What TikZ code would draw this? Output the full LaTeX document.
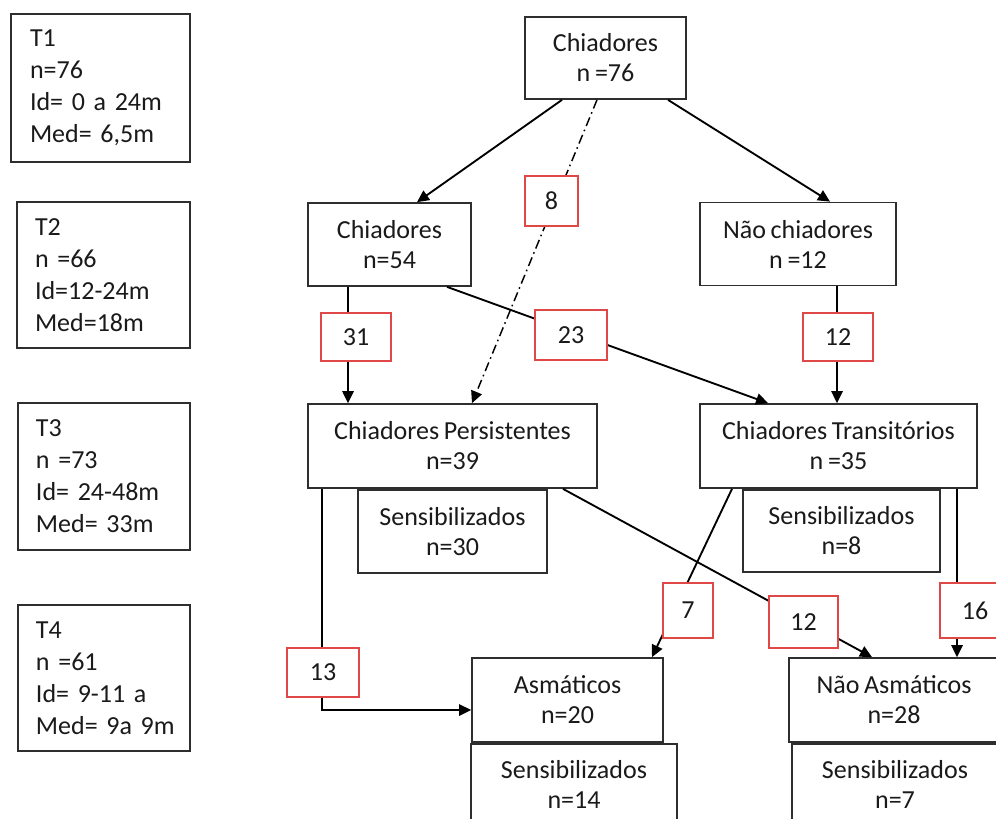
\documentclass[tikz,border=0pt]{standalone}
\usepackage{fontspec}
\setmainfont{Carlito}[WordSpace=0.8]
\usetikzlibrary{arrows.meta}
\newcommand{\px}{0.75pt}
\definecolor{edge}{HTML}{2E2E2E}
\definecolor{ink}{HTML}{1A1A1A}
\definecolor{redb}{HTML}{E04848}
\tikzset{
 box/.style={draw=edge, line width=1.3pt, fill=white, align=center, inner sep=0pt, text=ink, font=\fontsize{19.5}{22.5}\selectfont},
 lbox/.style={draw=edge, line width=1.3pt, align=left, inner ysep=0pt, text=ink, font=\fontsize{19.5}{24}\selectfont},
 rbox/.style={draw=redb, line width=1.1pt, fill=white, inner sep=0pt, text=ink, font=\fontsize{19.5}{22.5}\selectfont},
 arr/.style={draw=black, line width=1.4pt, -{Triangle[length=9pt,width=8.5pt]}},
 dd/.style={arr, line width=1.1pt, dash pattern=on 7pt off 3pt on 1.2pt off 3pt},
}
\begin{document}
\begin{tikzpicture}[x=0.75pt, y=-0.75pt]
\useasboundingbox (0,0) rectangle (996,818);
\clip (0,0) rectangle (996,818);
\fill[white] (0,0) rectangle (996,818);

% left time boxes
\node[lbox, text width=105.75pt, inner xsep=14.25pt, minimum height=111pt] (t1) at (100.5,88) {\mbox{T1}\\\mbox{n=76}\\\mbox{Id= 0 a 24m}\\\mbox{Med= 6,5m}};
\node[lbox, text width=102.75pt, inner xsep=13.5pt, minimum height=109.5pt] (t2) at (103.5,275) {\mbox{T2}\\\mbox{n =66}\\\mbox{Id=12-24m}\\\mbox{Med=18m}};
\node[lbox, text width=102pt, inner xsep=13.5pt, minimum height=110.25pt] (t3) at (104,476.5) {\mbox{T3}\\\mbox{n =73}\\\mbox{Id= 24-48m}\\\mbox{Med= 33m}};
\node[lbox, text width=102pt, inner xsep=13.5pt, minimum height=109.5pt] (t4) at (104,678) {\mbox{T4}\\\mbox{n =61}\\\mbox{Id= 9-11 a}\\\mbox{Med= 9a 9m}};

% main boxes
\node[box, minimum width=161*\px, minimum height=82*\px] (c0) at (605.5,58) {Chiadores\\n =76};
\node[box, minimum width=163*\px, minimum height=83*\px] (c54) at (389.5,244.5) {Chiadores\\n=54};
\node[box, minimum width=196*\px, minimum height=83*\px] (nc) at (798,244) {Não chiadores\\n =12};
\node[box, minimum width=289*\px, minimum height=84*\px] (cp) at (452.5,446) {Chiadores Persistentes\\n=39};
\node[box, minimum width=189*\px, minimum height=83*\px, anchor=north] (sp) at (cp.south) {Sensibilizados\\n=30};
\node[box, minimum width=277*\px, minimum height=84*\px] (ct) at (838.5,446) {Chiadores Transitórios\\n =35};
\node[box, minimum width=197*\px, minimum height=82*\px, anchor=north] (st) at ([xshift=3*\px]ct.south) {Sensibilizados\\n=8};
\node[box, minimum width=191*\px, minimum height=84*\px] (as) at (567.5,700) {Asmáticos\\n=20};
\node[box, minimum width=206*\px, minimum height=82*\px, anchor=north] (s14) at ([xshift=6.5*\px]as.south) {Sensibilizados\\n=14};
\node[box, minimum width=210*\px, minimum height=84*\px] (na) at (894,700) {Não Asmáticos\\n=28};
\node[box, minimum width=206*\px, minimum height=82*\px, anchor=north] (s7) at ([xshift=1*\px]na.south) {Sensibilizados\\n=7};

% connectors
\draw[arr] ([xshift=-43.5*\px]c0.south) -- ([xshift=27.5*\px]c54.north);
\draw[arr] ([xshift=62.5*\px]c0.south) -- ([xshift=32*\px]nc.north);
\draw[dd] ([xshift=-8.5*\px]c0.south) -- ([xshift=19.5*\px]cp.north);
\draw[arr] ([xshift=-41.5*\px]c54.south) -- ([xshift=-104.5*\px]cp.north);
\draw[arr] ([xshift=57.5*\px]c54.south) -- ([xshift=-70.5*\px]ct.north);
\draw[arr] ([xshift=39*\px]nc.south) -- ([xshift=-1.5*\px]ct.north);
\draw[arr] ([xshift=110.5*\px]cp.south) -- ([xshift=-22*\px]na.north);
\draw[arr] ([xshift=-106.5*\px]ct.south) -- ([xshift=84.5*\px]as.north);
\draw[arr] ([xshift=118.5*\px]ct.south) -- ([xshift=63*\px]na.north);
\draw[arr] ([xshift=-130.5*\px]cp.south) |- ([yshift=-10*\px]as.west);

% red count boxes
\node[rbox, minimum width=53*\px, minimum height=50*\px] (r8) at (551.5,201) {8};
\node[rbox, minimum width=70*\px, minimum height=48*\px] (r31) at (356,337) {31};
\node[rbox, minimum width=72*\px, minimum height=50*\px] (r23) at (571,335) {23};
\node[rbox, minimum width=70*\px, minimum height=48*\px] (r12a) at (838,337) {12};
\node[rbox, minimum width=50*\px, minimum height=55*\px] (r7) at (688,610.5) {7};
\node[rbox, minimum width=69*\px, minimum height=52*\px] (r12b) at (803.5,622) {12};
\node[rbox, minimum width=70*\px, minimum height=55*\px] (r16) at (975,610.5) {16};
\node[rbox, minimum width=72*\px, minimum height=49*\px] (r13) at (323,672.5) {13};
\end{tikzpicture}
\end{document}
